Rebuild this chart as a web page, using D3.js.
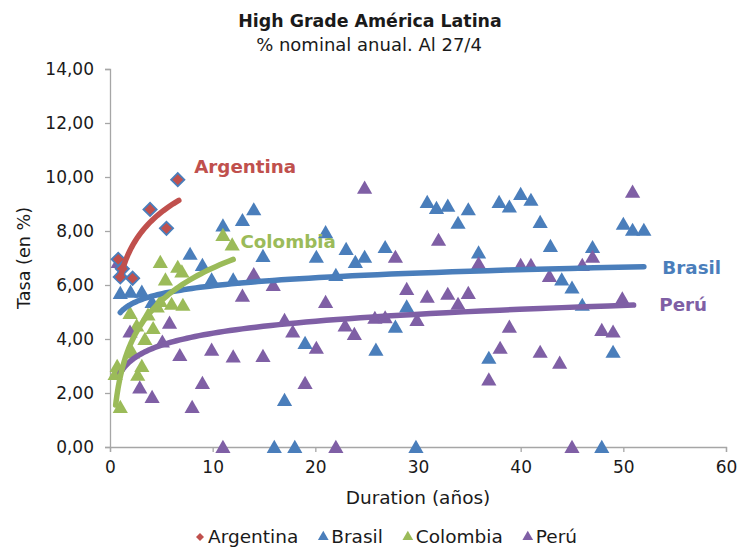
<!DOCTYPE html>
<html>
<head>
<meta charset="utf-8">
<script src="https://cdn.jsdelivr.net/npm/d3@7"></script>
<style>
  html, body { margin: 0; padding: 0; background: #fff; }
  svg { display: block; }
  text { font-family: "DejaVu Sans", sans-serif; }
</style>
</head>
<body>
<svg id="chart" width="740" height="549"></svg>
<script>
// ---- Data ----
const titleText = "High Grade América Latina";
const subtitleText = "% nominal anual. Al 27/4";
const xAxisTitle = "Duration (años)";
const yAxisTitle = "Tasa (en %)";
const seriesNames = ["Argentina", "Brasil", "Colombia", "Perú"];
const seriesColors = ["#c0504d", "#4a7ebb", "#9bbb59", "#7f5fa5"];
const xTicks = [0, 10, 20, 30, 40, 50, 60];
const yTicks = [0, 2, 4, 6, 8, 10, 12, 14];

const argentina = [[0.8,6.95],[1.2,6.6],[1.0,6.3],[2.2,6.25],[3.9,8.8],[5.5,8.1],[6.6,9.9]];
const brasil = [[1,5.7],[2,5.75],[3.1,5.75],[4.1,5.37],[7.8,7.15],[9,6.74],[9.9,6.2],[11,8.2],[12,6.2],[12.9,8.4],[14,8.8],[14.9,7.07],[16,0],[17,1.74],[18,0],[19,3.85],[20.1,7.04],[21,7.95],[22,6.37],[23,7.33],[23.9,6.85],[24.8,7.04],[25.9,3.6],[26.8,7.4],[27.8,4.45],[28.9,5.2],[29.8,0],[30.9,9.07],[31.8,8.85],[32.9,8.93],[33.9,8.3],[34.9,8.8],[35.9,7.2],[36.9,3.3],[37.9,9.07],[38.9,8.9],[40,9.37],[41,9.15],[41.9,8.33],[42.9,7.44],[44,6.2],[45,5.9],[46,5.26],[47,7.4],[47.9,0],[49,3.52],[50,8.26],[50.9,8.04],[52,8.04]];
const colombia = [[0.5,2.7],[0.7,3.0],[1.0,1.48],[2.2,3.5],[2.7,2.67],[3.1,3.0],[1.95,4.96],[2.6,4.5],[3.4,4.0],[3.7,4.9],[4.2,4.4],[4.6,5.2],[4.9,5.4],[4.9,6.85],[5.4,6.2],[6.0,5.3],[6.6,6.67],[7.0,6.5],[7.1,5.26],[11,7.85],[11.9,7.5]];
const peru = [[0.8,6.85],[1.95,4.27],[2.9,2.2],[4.1,1.85],[5.1,3.9],[5.8,4.6],[6.8,3.4],[8,1.48],[9,2.37],[9.9,3.6],[11,0],[12,3.35],[12.9,5.6],[14,6.4],[14.9,3.37],[15.9,6.0],[17,4.7],[17.8,4.27],[19,2.37],[20.1,3.67],[21,5.37],[22,0],[22.9,4.5],[23.8,4.18],[24.8,9.6],[25.8,4.78],[26.8,4.8],[27.8,7.04],[28.9,5.85],[29.9,4.7],[30.9,5.56],[32,7.67],[32.9,5.67],[33.9,5.3],[34.9,5.7],[35.9,6.8],[36.9,2.5],[38,3.67],[38.9,4.45],[40,6.74],[41,6.74],[41.9,3.52],[42.8,6.33],[43.8,3.12],[45,0],[46,6.74],[47,7.04],[47.9,4.33],[49,4.27],[49.9,5.5],[50.9,9.45]];

// Logarithmic trendlines y = a + b*ln(x): [a, b, xStart, xEnd]
const trendArgentina = [6.28, 1.5, 0.97, 6.7];
const trendBrasil = [4.98, 0.43, 1.0, 52];
const trendColombia = [2.6, 1.75, 0.55, 12];
const trendPeru = [2.74, 0.64, 1.0, 51];

// Trendline labels [x, y] in data units
const labelArgentina = [8.2, 10.15];
const labelBrasil = [53.8, 6.4];
const labelColombia = [12.7, 7.38];
const labelPeru = [53.5, 5.02];

// ---- Chart ----
const svg = d3.select("#chart");
const margin = {left: 110, right: 14, top: 69, bottom: 102};
const W = 740, H = 549;
const x = d3.scaleLinear().domain([0, 60]).range([margin.left, W - margin.right]);
const y = d3.scaleLinear().domain([0, 14]).range([H - margin.bottom, margin.top]);

const axisColor = "#a6a6a6";
const textColor = "#1a1a1a";
const fmt = d3.formatLocale({decimal: ",", thousands: ".", grouping: [3], currency: ["", ""]}).format(".2f");
const FONT = "'DejaVu Sans', sans-serif";

// Titles
svg.append("text").attr("x", 370).attr("y", 27).attr("text-anchor", "middle")
  .attr("font-size", 17.4).attr("font-weight", "bold").attr("fill", textColor).text(titleText);
svg.append("text").attr("x", 369).attr("y", 51).attr("text-anchor", "middle")
  .attr("font-size", 18).attr("fill", textColor).text(subtitleText);

// Axes
const yAxis = d3.axisLeft(y).tickValues(yTicks).tickFormat(fmt).tickSize(5).tickPadding(11);
const gy = svg.append("g").attr("transform", `translate(${margin.left},0)`).call(yAxis);
gy.select(".domain").attr("stroke", axisColor).attr("stroke-width", 1.3);
gy.selectAll(".tick line").attr("stroke", axisColor).attr("stroke-width", 1.3);
gy.selectAll(".tick text").attr("font-size", 17).attr("fill", textColor).style("font-family", FONT);

const xAxis = d3.axisBottom(x).tickValues(xTicks).tickFormat(d3.format("d")).tickSize(5).tickPadding(9);
const gx = svg.append("g").attr("transform", `translate(0,${y(0)})`).call(xAxis);
gx.select(".domain").attr("stroke", axisColor).attr("stroke-width", 1.3);
gx.selectAll(".tick line").attr("stroke", axisColor).attr("stroke-width", 1.3);
gx.selectAll(".tick text").attr("font-size", 17).attr("fill", textColor).style("font-family", FONT);

svg.append("text").attr("x", (x(0) + x(60)) / 2).attr("y", 504).attr("text-anchor", "middle")
  .attr("font-size", 18.5).attr("fill", textColor).text(xAxisTitle);
svg.append("text").attr("transform", `translate(30,${(y(0) + y(14)) / 2}) rotate(-90)`)
  .attr("text-anchor", "middle").attr("font-size", 17.6).attr("fill", textColor).text(yAxisTitle);

// Markers
const tri = d3.symbol().type(d3.symbolTriangle).size(100);
const dia = d3.symbol().type(d3.symbolSquare).size(88);

function drawTriangles(data, color) {
  svg.append("g").selectAll("path").data(data).join("path")
    .attr("d", tri)
    .attr("transform", d => `translate(${x(d[0])},${y(d[1]) + 1.5})`)
    .attr("fill", color);
}
drawTriangles(brasil, seriesColors[1]);
drawTriangles(colombia, seriesColors[2]);
drawTriangles(peru, seriesColors[3]);
svg.append("g").selectAll("path").data(argentina).join("path")
  .attr("d", dia)
  .attr("transform", d => `translate(${x(d[0])},${y(d[1])}) rotate(45)`)
  .attr("fill", seriesColors[0]).attr("stroke", "#4a7ebb").attr("stroke-width", 1.8);

// Trendlines
function drawTrend(t, color) {
  const n = 80;
  const pts = d3.range(n + 1).map(i => {
    const xv = t[2] * Math.pow(t[3] / t[2], i / n);
    return [xv, t[0] + t[1] * Math.log(xv)];
  });
  svg.append("path").datum(pts)
    .attr("d", d3.line().x(d => x(d[0])).y(d => y(d[1])))
    .attr("fill", "none").attr("stroke", color).attr("stroke-width", 5.5)
    .attr("stroke-linecap", "round");
}
drawTrend(trendBrasil, seriesColors[1]);
drawTrend(trendPeru, seriesColors[3]);
drawTrend(trendColombia, seriesColors[2]);
drawTrend(trendArgentina, seriesColors[0]);

// Trend labels
const labels = [[labelArgentina, 0], [labelBrasil, 1], [labelColombia, 2], [labelPeru, 3]];
labels.forEach(([p, i]) => {
  svg.append("text").attr("x", x(p[0])).attr("y", y(p[1]))
    .attr("font-size", 18.3).attr("font-weight", "bold").attr("fill", seriesColors[i])
    .text(seriesNames[i]);
});

// Legend (laid out from measured text widths)
const legendY = 543;
const legendSyms = [
  {sym: d3.symbolSquare, size: 32, rot: 45},
  {sym: d3.symbolTriangle, size: 50, rot: 0},
  {sym: d3.symbolTriangle, size: 50, rot: 0},
  {sym: d3.symbolTriangle, size: 50, rot: 0}
];
const lg = svg.append("g");
const items = seriesNames.map((name, i) => {
  const g = lg.append("g");
  g.append("path").attr("d", d3.symbol().type(legendSyms[i].sym).size(legendSyms[i].size))
    .attr("transform", `translate(0,${legendY - 6}) rotate(${legendSyms[i].rot})`)
    .attr("fill", seriesColors[i]);
  const t = g.append("text").attr("x", 8).attr("y", legendY).attr("font-size", 18.5)
    .attr("fill", textColor).text(name);
  return {g, w: 8 + t.node().getComputedTextLength() + 5};
});
const gap = 20;
const totalW = d3.sum(items, d => d.w) + gap * (items.length - 1);
let cx = 386 - totalW / 2 + 5;
items.forEach(it => { it.g.attr("transform", `translate(${cx},0)`); cx += it.w + gap; });
</script>
</body>
</html>
